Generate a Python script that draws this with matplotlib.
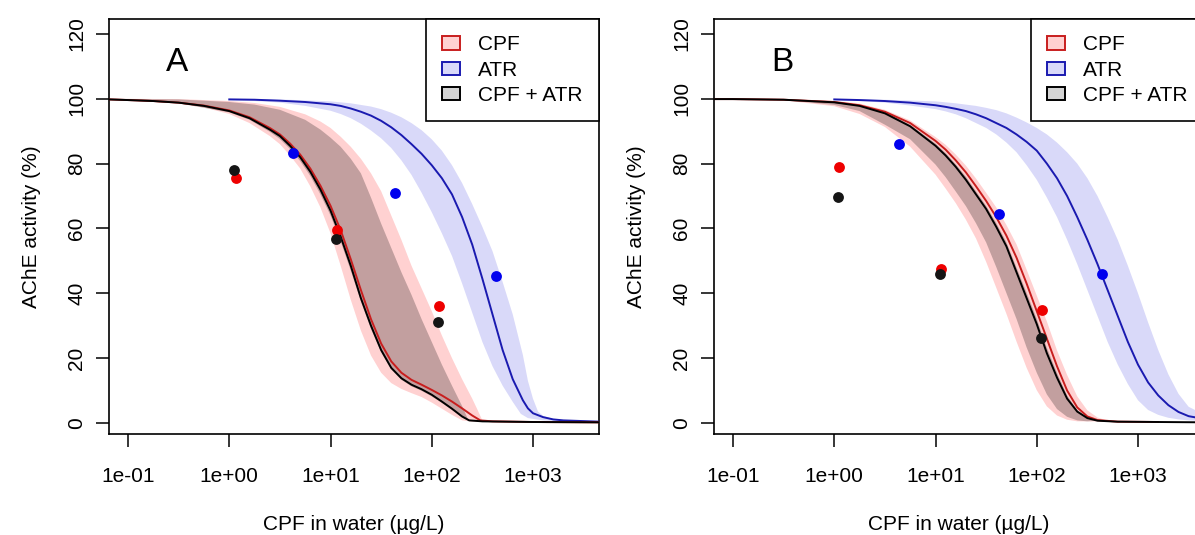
import numpy as np
import matplotlib
matplotlib.use("Agg")
import matplotlib.pyplot as plt
from matplotlib.patches import Patch
from matplotlib.ticker import NullLocator

plt.rcParams['font.family'] = ['Liberation Sans', 'DejaVu Sans']

# ---------------- data (log10 of CPF concentration, activity %) ----------------
# Panel A
A_mix_L = [-1.19, -1.0, -0.75, -0.5, -0.25, 0.0, 0.2, 0.4, 0.5, 0.6, 0.7, 0.8, 0.9, 1.0, 1.1, 1.2, 1.3, 1.4, 1.5, 1.6, 1.7, 1.8, 1.9, 2.0, 2.1, 2.2, 2.3, 2.37, 2.5, 3.0, 3.66]
A_mix_y = [99.8, 99.6, 99.3, 98.8, 97.8, 96.2, 94.0, 90.5, 88.5, 85.5, 82.0, 77.5, 72.0, 65.5, 57.5, 48.5, 38.5, 30.0, 22.5, 17.0, 13.8, 11.8, 10.4, 8.7, 6.6, 4.4, 2.0, 0.8, 0.5, 0.3, 0.2]
A_cpf_L = [-1.19, -1.0, -0.75, -0.5, -0.25, 0.0, 0.2, 0.4, 0.5, 0.6, 0.7, 0.8, 0.9, 1.0, 1.1, 1.2, 1.3, 1.4, 1.5, 1.6, 1.7, 1.8, 1.9, 2.0, 2.1, 2.2, 2.3, 2.4, 2.48, 2.6, 3.0, 3.66]
A_cpf_y = [99.8, 99.6, 99.3, 98.8, 97.9, 96.4, 94.3, 91.0, 89.0, 86.2, 82.8, 78.5, 73.2, 67.0, 59.5, 50.5, 41.0, 32.0, 24.5, 19.0, 15.5, 13.3, 11.8, 10.2, 8.5, 6.6, 4.5, 2.3, 0.8, 0.5, 0.3, 0.2]
A_cpf_lo_L = [-1.19, -1.0, -0.5, -0.25, 0.0, 0.2, 0.4, 0.5, 0.6, 0.7, 0.8, 0.9, 1.0, 1.1, 1.2, 1.3, 1.4, 1.5, 1.6, 1.7, 1.8, 1.9, 2.0, 2.1, 2.2, 2.3, 2.4, 2.6]
A_cpf_lo_y = [99.8, 99.5, 98.5, 97.3, 95.3, 92.5, 88.5, 86.0, 82.5, 78.5, 73.0, 66.5, 58.5, 48.5, 38.0, 28.5, 20.8, 15.5, 12.3, 10.5, 9.2, 8.0, 6.3, 4.4, 2.5, 0.8, 0.4, 0.3]
A_cpf_hi_L = [-1.19, -0.5, 0.0, 0.25, 0.5, 0.75, 0.9, 1.0, 1.1, 1.2, 1.3, 1.4, 1.5, 1.6, 1.7, 1.8, 1.9, 2.0, 2.1, 2.2, 2.3, 2.4, 2.45, 2.5, 2.6, 3.0]
A_cpf_hi_y = [100.0, 99.9, 99.3, 98.7, 97.5, 95.2, 93.0, 91.0, 88.3, 85.2, 81.5, 77.0, 71.5, 64.0, 56.5, 48.5, 41.5, 34.5, 27.0, 20.0, 13.5, 7.5, 4.2, 0.8, 0.5, 0.3]
A_mix_lo_L = [-1.19, -1.0, -0.5, 0.0, 0.2, 0.4, 0.5, 0.6, 0.7, 0.8, 0.9, 1.0, 1.1, 1.2, 1.3, 1.4, 1.5, 1.6, 1.7, 1.8, 1.9, 2.0, 2.1, 2.2, 2.3, 2.37, 2.5]
A_mix_lo_y = [99.8, 99.5, 98.6, 95.8, 93.5, 89.8, 87.6, 84.5, 80.8, 76.2, 70.5, 64.0, 56.0, 47.0, 37.5, 29.0, 21.8, 16.5, 13.3, 11.3, 9.9, 8.2, 6.2, 4.0, 1.7, 0.6, 0.4]
A_mix_hi_L = [-1.19, -0.5, 0.0, 0.25, 0.5, 0.75, 0.9, 1.0, 1.1, 1.2, 1.3, 1.4, 1.5, 1.6, 1.7, 1.8, 1.9, 2.0, 2.1, 2.2, 2.3, 2.36, 2.5]
A_mix_hi_y = [100.0, 99.8, 99.0, 98.2, 96.6, 93.5, 90.5, 88.0, 85.2, 81.5, 77.0, 69.5, 61.5, 54.0, 46.5, 39.5, 32.0, 25.0, 18.0, 11.5, 5.2, 1.0, 0.4]
A_atr_L = [0.0, 0.25, 0.5, 0.75, 1.0, 1.1, 1.2, 1.3, 1.4, 1.5, 1.6, 1.7, 1.8, 1.9, 2.0, 2.1, 2.2, 2.3, 2.4, 2.5, 2.6, 2.7, 2.8, 2.9, 2.95, 3.0, 3.1, 3.2, 3.3, 3.66]
A_atr_y = [99.8, 99.7, 99.4, 99.0, 98.3, 97.8, 97.0, 96.0, 94.8, 93.2, 91.2, 88.8, 86.0, 83.0, 79.5, 75.5, 70.5, 63.5, 55.0, 44.5, 33.5, 22.5, 13.5, 7.0, 4.5, 3.0, 1.8, 1.1, 0.8, 0.4]
A_atr_lo_L = [0.0, 0.25, 0.5, 0.75, 1.0, 1.1, 1.2, 1.3, 1.4, 1.5, 1.6, 1.7, 1.8, 1.9, 2.0, 2.1, 2.2, 2.3, 2.4, 2.5, 2.6, 2.7, 2.8, 2.88, 2.95, 3.1, 3.3, 3.66]
A_atr_lo_y = [99.6, 99.3, 98.8, 97.8, 96.3, 95.3, 94.0, 92.3, 90.2, 87.8, 84.8, 81.0, 76.5, 71.0, 65.0, 58.5, 51.5, 43.0, 34.0, 25.0, 17.5, 11.5, 6.5, 2.8, 1.5, 0.8, 0.5, 0.3]
A_atr_hi_L = [0.0, 0.5, 1.0, 1.2, 1.4, 1.5, 1.6, 1.7, 1.8, 1.9, 2.0, 2.1, 2.2, 2.3, 2.4, 2.5, 2.6, 2.7, 2.8, 2.9, 2.95, 3.0, 3.05, 3.1, 3.2, 3.4, 3.66]
A_atr_hi_y = [100.0, 99.8, 99.2, 98.6, 97.6, 96.8, 95.7, 94.3, 92.5, 90.3, 87.5, 84.0, 79.5, 74.0, 67.5, 60.5, 53.0, 43.5, 33.5, 21.0, 13.0, 7.5, 3.5, 2.2, 1.2, 0.6, 0.4]
A_pts_cpf_L = [0.066, 1.06, 2.07]
A_pts_cpf_y = [75.6, 59.4, 36.2]
A_pts_mix_L = [0.05, 1.05, 2.06]
A_pts_mix_y = [78.0, 56.8, 31.1]
A_pts_atr_L = [0.63, 1.634, 2.634]
A_pts_atr_y = [83.3, 70.9, 45.2]

# Panel B
B_mix_L = [-1.2, -1.0, -0.5, 0.0, 0.25, 0.5, 0.75, 1.0, 1.1, 1.2, 1.3, 1.4, 1.5, 1.6, 1.7, 1.8, 1.9, 2.0, 2.1, 2.2, 2.3, 2.4, 2.5, 2.6, 2.8, 3.2, 3.66]
B_mix_y = [99.9, 99.9, 99.7, 98.9, 97.8, 95.5, 91.5, 85.5, 82.5, 79.0, 75.0, 70.5, 66.0, 60.5, 54.5, 46.5, 38.5, 30.5, 21.5, 14.0, 7.5, 3.5, 1.5, 0.7, 0.4, 0.3, 0.2]
B_cpf_L = [-1.2, -1.0, -0.5, 0.0, 0.25, 0.5, 0.75, 1.0, 1.1, 1.2, 1.3, 1.4, 1.5, 1.6, 1.7, 1.8, 1.9, 2.0, 2.1, 2.2, 2.3, 2.4, 2.5, 2.6, 2.8, 3.2]
B_cpf_y = [99.9, 99.9, 99.7, 99.0, 98.0, 96.0, 92.5, 87.0, 84.3, 81.0, 77.3, 73.0, 68.5, 63.5, 57.8, 51.0, 43.0, 34.5, 26.0, 17.5, 10.0, 4.8, 2.0, 0.9, 0.4, 0.3]
B_mix_lo_L = [-1.2, -0.5, 0.0, 0.25, 0.5, 0.75, 1.0, 1.1, 1.2, 1.3, 1.4, 1.5, 1.6, 1.7, 1.8, 1.9, 2.0, 2.1, 2.2, 2.3, 2.4, 2.5]
B_mix_lo_y = [99.9, 99.6, 98.1, 96.2, 92.0, 87.5, 79.7, 75.8, 71.4, 66.9, 61.6, 55.7, 48.1, 40.1, 32.1, 23.3, 15.5, 8.8, 4.3, 1.9, 0.8, 0.5]
B_mix_hi_L = [-1.2, -0.5, 0.0, 0.25, 0.5, 0.75, 1.0, 1.1, 1.2, 1.3, 1.4, 1.5, 1.6, 1.7, 1.8, 1.9, 2.0, 2.1, 2.2, 2.3, 2.4, 2.5, 2.6]
B_mix_hi_y = [99.9, 99.7, 99.0, 98.0, 95.8, 92.0, 86.2, 83.3, 79.8, 76.0, 71.5, 67.0, 61.7, 55.8, 48.0, 40.2, 32.2, 23.2, 15.5, 8.5, 4.0, 1.7, 0.7]
B_cpf_lo_L = [-1.2, -0.5, 0.0, 0.25, 0.5, 0.75, 1.0, 1.1, 1.2, 1.3, 1.4, 1.5, 1.6, 1.7, 1.8, 1.9, 2.0, 2.1, 2.2, 2.3, 2.4]
B_cpf_lo_y = [99.9, 99.5, 97.7, 95.3, 91.3, 85.2, 76.6, 72.3, 67.8, 62.7, 56.9, 49.7, 41.7, 33.7, 25.1, 17.0, 10.1, 5.1, 2.3, 1.0, 0.5]
B_cpf_hi_L = [-1.2, -0.5, 0.0, 0.25, 0.5, 0.75, 1.0, 1.1, 1.2, 1.3, 1.4, 1.5, 1.6, 1.7, 1.8, 1.9, 2.0, 2.1, 2.2, 2.3, 2.4, 2.5, 2.6, 2.7, 2.8]
B_cpf_hi_y = [99.9, 99.8, 99.3, 98.5, 96.6, 93.3, 88.2, 85.8, 82.8, 79.4, 75.4, 71.0, 66.5, 61.1, 55.1, 47.3, 39.3, 31.3, 22.4, 14.8, 8.2, 3.9, 1.7, 0.7, 0.4]
B_atr_L = [0.0, 0.25, 0.5, 0.75, 1.0, 1.1, 1.2, 1.3, 1.4, 1.5, 1.6, 1.7, 1.8, 1.9, 2.0, 2.1, 2.2, 2.3, 2.4, 2.5, 2.6, 2.7, 2.8, 2.9, 3.0, 3.1, 3.2, 3.3, 3.4, 3.5, 3.66]
B_atr_y = [99.8, 99.6, 99.3, 98.8, 98.0, 97.5, 96.9, 96.2, 95.2, 94.0, 92.5, 91.0, 89.0, 86.7, 84.0, 80.0, 75.5, 70.0, 63.5, 56.5, 49.0, 41.0, 33.0, 25.0, 18.0, 12.5, 8.5, 5.5, 3.4, 2.1, 1.2]
B_atr_lo_L = [0.0, 0.25, 0.5, 0.75, 1.0, 1.1, 1.2, 1.3, 1.4, 1.5, 1.6, 1.7, 1.8, 1.9, 2.0, 2.1, 2.2, 2.3, 2.4, 2.5, 2.6, 2.7, 2.8, 2.9, 3.0, 3.1, 3.2, 3.3, 3.4, 3.5, 3.66]
B_atr_lo_y = [99.6, 99.3, 98.8, 97.9, 96.8, 96.1, 95.2, 94.0, 92.5, 91.0, 89.0, 86.5, 83.5, 79.5, 75.0, 69.5, 63.5, 56.5, 49.0, 41.0, 33.0, 25.0, 18.0, 12.0, 7.0, 4.0, 2.5, 1.6, 1.1, 0.8, 0.6]
B_atr_hi_L = [0.0, 0.5, 1.0, 1.2, 1.4, 1.5, 1.6, 1.7, 1.8, 1.9, 2.0, 2.1, 2.2, 2.3, 2.4, 2.5, 2.6, 2.7, 2.8, 2.9, 3.0, 3.1, 3.2, 3.3, 3.4, 3.5, 3.66]
B_atr_hi_y = [99.9, 99.7, 99.2, 98.6, 97.8, 97.2, 96.5, 95.5, 94.2, 92.7, 91.0, 89.0, 86.5, 83.5, 80.0, 75.5, 70.0, 63.5, 56.5, 48.5, 40.0, 31.0, 22.5, 15.0, 9.0, 5.0, 2.5]
B_pts_cpf_L = [0.045, 1.05, 2.05]
B_pts_cpf_y = [78.9, 47.6, 34.9]
B_pts_mix_L = [0.033, 1.04, 2.04]
B_pts_mix_y = [69.8, 46.1, 26.2]
B_pts_atr_L = [0.644, 1.63, 2.64]
B_pts_atr_y = [86.1, 64.6, 46.1]

tick_vals = [0.1, 1, 10, 100, 1000]
tick_labels = ['1e-01', '1e+00', '1e+01', '1e+02', '1e+03']
y_ticks = [0, 20, 40, 60, 80, 100, 120]
legend_labels = ['CPF', 'ATR', 'CPF + ATR']
panel_letters = ['A', 'B']

# ---------------- styles ----------------
RED_LINE = '#C81E1E'
BLUE_LINE = '#1A1AB0'
BLACK_LINE = '#000000'
PINK_FILL = (1.0, 0.0, 0.0, 0.18)
BLUE_FILL = (0.0, 0.0, 0.85, 0.15)
GREY_FILL = (0.0, 0.0, 0.0, 0.24)
LEG_GREY = (0.0, 0.0, 0.0, 0.17)
FS = 15

W, H = 1195, 535
fig = plt.figure(figsize=(W / 100, H / 100), dpi=100)

def px_axes(left, top, right, bottom):
    return fig.add_axes([left / W, (H - bottom) / H, (right - left) / W, (bottom - top) / H])

def band(ax, loL, loy, hiL, hiy, color):
    xs = np.concatenate([10 ** np.array(loL), (10 ** np.array(hiL))[::-1]])
    ys = np.concatenate([np.array(loy), np.array(hiy)[::-1]])
    ax.fill(xs, ys, color=color, lw=0, zorder=1)

def draw_panel(ax, d, letter):
    band(ax, d['cpf_lo_L'], d['cpf_lo_y'], d['cpf_hi_L'], d['cpf_hi_y'], PINK_FILL)
    band(ax, d['mix_lo_L'], d['mix_lo_y'], d['mix_hi_L'], d['mix_hi_y'], GREY_FILL)
    band(ax, d['atr_lo_L'], d['atr_lo_y'], d['atr_hi_L'], d['atr_hi_y'], BLUE_FILL)
    ax.plot(10 ** np.array(d['atr_L']), d['atr_y'], color=BLUE_LINE, lw=1.4, zorder=3)
    ax.plot(10 ** np.array(d['cpf_L']), d['cpf_y'], color=RED_LINE, lw=1.4, zorder=3)
    ax.plot(10 ** np.array(d['mix_L']), d['mix_y'], color=BLACK_LINE, lw=1.4, zorder=4)
    ax.plot(10 ** np.array(d['pcpf_L']), d['pcpf_y'], 'o', color='#EE0000', ms=7.8, mew=0, zorder=5)
    ax.plot(10 ** np.array(d['patr_L']), d['patr_y'], 'o', color='#0000EE', ms=7.8, mew=0, zorder=5)
    ax.plot(10 ** np.array(d['pmix_L']), d['pmix_y'], 'o', color='#151515', ms=7.8, mew=0, zorder=6)

    ax.set_xscale('log')
    ax.set_xlim(10 ** -1.188, 10 ** 3.652)
    ax.set_ylim(-3.4, 124.6)
    ax.set_xticks(tick_vals)
    ax.set_xticklabels(tick_labels)
    ax.xaxis.set_minor_locator(NullLocator())
    ax.set_yticks(y_ticks)
    ax.set_yticklabels([str(v) for v in y_ticks])
    ax.tick_params(axis='both', length=9.4, width=1.1, labelsize=FS, color='black')
    ax.tick_params(axis='x', pad=14.5)
    ax.tick_params(axis='y', pad=7.0)
    for lbl in ax.get_yticklabels():
        lbl.set_rotation(90)
        lbl.set_va('center')
    for s in ax.spines.values():
        s.set_linewidth(1.2)
    ax.set_xlabel('CPF in water (\u00b5g/L)', fontsize=FS, va='center')
    ax.xaxis.set_label_coords(0.5, -0.217)
    ax.set_ylabel('AChE activity (%)', fontsize=FS, va='center')
    ax.yaxis.set_label_coords(-0.159, 0.5)
    ax.text(10 ** -0.516, 108.6, letter, fontsize=24, ha='center', va='baseline')

    handles = [Patch(facecolor=PINK_FILL, edgecolor=RED_LINE, lw=1.4),
               Patch(facecolor=BLUE_FILL, edgecolor=BLUE_LINE, lw=1.4),
               Patch(facecolor=LEG_GREY, edgecolor=BLACK_LINE, lw=1.4)]
    leg = ax.legend(handles, legend_labels, loc='upper right', bbox_to_anchor=(1, 1),
                    borderaxespad=0, frameon=True, fancybox=False, framealpha=1,
                    edgecolor='black', fontsize=FS, borderpad=0.78, labelspacing=0.3,
                    handlelength=0.82, handleheight=0.6, handletextpad=0.9)
    leg.get_frame().set_linewidth(1.2)
    leg.set_zorder(10)

dA = dict(mix_L=A_mix_L, mix_y=A_mix_y, cpf_L=A_cpf_L, cpf_y=A_cpf_y,
          cpf_lo_L=A_cpf_lo_L, cpf_lo_y=A_cpf_lo_y, cpf_hi_L=A_cpf_hi_L, cpf_hi_y=A_cpf_hi_y,
          mix_lo_L=A_mix_lo_L, mix_lo_y=A_mix_lo_y, mix_hi_L=A_mix_hi_L, mix_hi_y=A_mix_hi_y,
          atr_L=A_atr_L, atr_y=A_atr_y, atr_lo_L=A_atr_lo_L, atr_lo_y=A_atr_lo_y,
          atr_hi_L=A_atr_hi_L, atr_hi_y=A_atr_hi_y,
          pcpf_L=A_pts_cpf_L, pcpf_y=A_pts_cpf_y, pmix_L=A_pts_mix_L, pmix_y=A_pts_mix_y,
          patr_L=A_pts_atr_L, patr_y=A_pts_atr_y)
dB = dict(mix_L=B_mix_L, mix_y=B_mix_y, cpf_L=B_cpf_L, cpf_y=B_cpf_y,
          cpf_lo_L=B_cpf_lo_L, cpf_lo_y=B_cpf_lo_y, cpf_hi_L=B_cpf_hi_L, cpf_hi_y=B_cpf_hi_y,
          mix_lo_L=B_mix_lo_L, mix_lo_y=B_mix_lo_y, mix_hi_L=B_mix_hi_L, mix_hi_y=B_mix_hi_y,
          atr_L=B_atr_L, atr_y=B_atr_y, atr_lo_L=B_atr_lo_L, atr_lo_y=B_atr_lo_y,
          atr_hi_L=B_atr_hi_L, atr_hi_y=B_atr_hi_y,
          pcpf_L=B_pts_cpf_L, pcpf_y=B_pts_cpf_y, pmix_L=B_pts_mix_L, pmix_y=B_pts_mix_y,
          patr_L=B_pts_atr_L, patr_y=B_pts_atr_y)

axA = px_axes(109, 19, 599, 434)
axB = px_axes(714, 19, 1204, 434)
draw_panel(axA, dA, panel_letters[0])
draw_panel(axB, dB, panel_letters[1])

fig.savefig('out.png', dpi=100)
